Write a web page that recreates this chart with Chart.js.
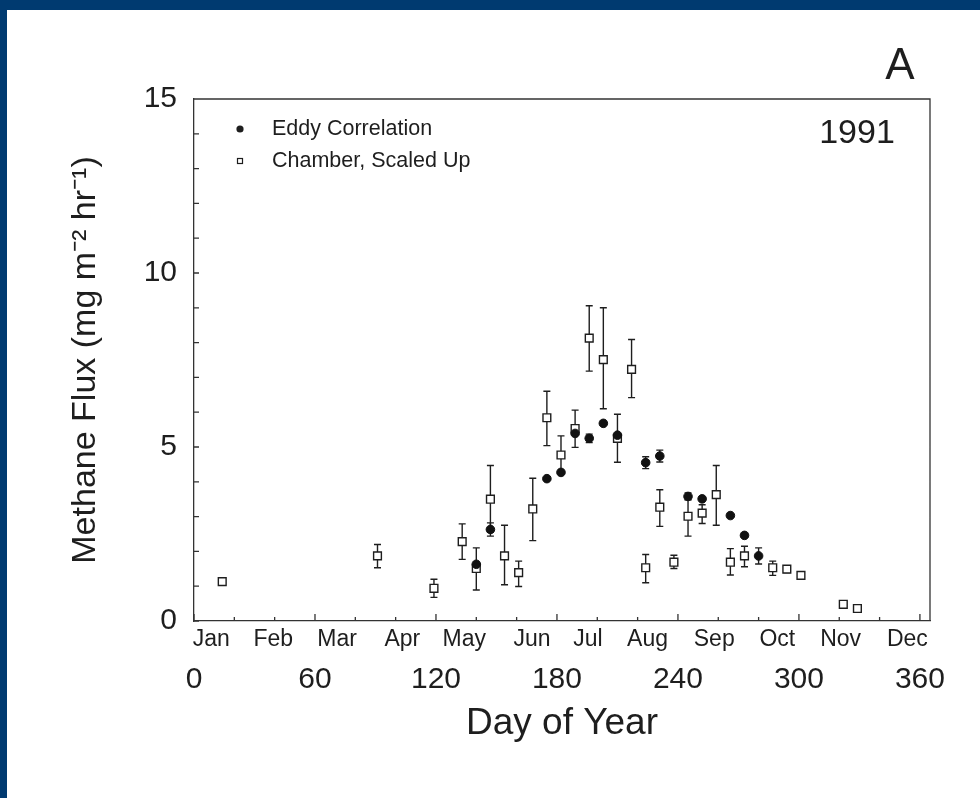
<!DOCTYPE html>
<html>
<head>
<meta charset="utf-8">
<script src="https://cdn.jsdelivr.net/npm/chart.js@4.4.0/dist/chart.umd.min.js"></script>
<style>
  html, body { margin: 0; padding: 0; background: #fff; }
  #wrap { position: relative; width: 980px; height: 798px; overflow: hidden; }
  #chart { position: absolute; left: 0; top: 0; }
  .band { position: absolute; background: #003a70; }
</style>
</head>
<body>
<div id="wrap">
  <canvas id="chart" width="980" height="798"></canvas>
  <div class="band" style="left:0;top:0;width:980px;height:10px"></div>
  <div class="band" style="left:0;top:0;width:7px;height:798px"></div>
</div>
<script>
// eddy correlation: day of year, flux, half error (null = no bar)
const eddyDays = [140, 147, 175, 182, 189, 196, 203, 210, 224, 231, 245, 252, 266, 273, 280];
const eddyFlux = [1.63, 2.63, 4.09, 4.27, 5.39, 5.25, 5.68, 5.34, 4.55, 4.74, 3.58, 3.51, 3.03, 2.46, 1.87];
const eddyErr  = [null, 0.19, null, null, null, 0.12, null, null, 0.17, 0.17, 0.1, null, null, null, 0.23];

// chamber, scaled up: day, flux, lower and upper bar ends
const chamberDays = [14, 91, 119, 133, 140, 147, 154, 161, 168, 175, 182, 189, 196, 203, 210,
                     217, 224, 231, 238, 245, 252, 259, 266, 273, 287, 294, 301, 322, 329];
const chamberFlux = [1.13, 1.87, 0.94, 2.28, 1.51, 3.5, 1.87, 1.39, 3.22, 5.84, 4.77, 5.53, 8.13, 7.51, 5.25,
                     7.23, 1.53, 3.27, 1.69, 3.01, 3.1, 3.63, 1.69, 1.87, 1.53, 1.49, 1.31, 0.48, 0.36];
const chamberLo = [null, 1.53, 0.68, 1.77, 0.89, 2.55, 1.04, 0.99, 2.31, 5.04, 4.3, 4.99, 7.18, 6.1, 4.56,
                   6.42, 1.1, 2.72, 1.51, 2.44, 2.8, 2.75, 1.32, 1.56, 1.31, 1.39, null, null, null];
const chamberHi = [null, 2.2, 1.2, 2.79, 2.1, 4.47, 2.75, 1.72, 4.1, 6.6, 5.32, 6.06, 9.06, 9.0, 5.94,
                   8.09, 1.91, 3.77, 1.89, 3.49, 3.34, 4.47, 2.08, 2.15, 1.72, 1.59, null, null, null];

const xTickDays = [0, 20, 40, 60, 80, 100, 120, 140, 160, 180, 200, 220, 240, 260, 280, 300, 320, 340, 360];
const dayLabels = [0, 60, 120, 180, 240, 300, 360];
const monthDays = [8.6, 39.3, 71, 103.3, 134, 167.6, 195.4, 224.9, 258, 289.3, 320.7, 353.8];
const monthNames = ['Jan', 'Feb', 'Mar', 'Apr', 'May', 'Jun', 'Jul', 'Aug', 'Sep', 'Oct', 'Nov', 'Dec'];
const yLabels = [0, 5, 10, 15];

const ink = '#1e1e1e';
const axisInk = '#333';
const family = '"Liberation Sans", Arial, sans-serif';

const eddyPoints = eddyDays.map((d, i) => ({
    x: d, y: eddyFlux[i],
    lo: eddyErr[i] == null ? null : eddyFlux[i] - eddyErr[i],
    hi: eddyErr[i] == null ? null : eddyFlux[i] + eddyErr[i]
}));
const chamberPoints = chamberDays.map((d, i) => ({ x: d, y: chamberFlux[i], lo: chamberLo[i], hi: chamberHi[i] }));

const errorBars = {
    id: 'errorBars',
    beforeDatasetsDraw(chart) {
        const { ctx, scales: { x, y } } = chart;
        ctx.save();
        ctx.strokeStyle = ink;
        ctx.lineWidth = 1.4;
        chart.data.datasets.forEach(ds => {
            ds.data.forEach(p => {
                if (p.lo == null) return;
                const px = x.getPixelForValue(p.x);
                const top = y.getPixelForValue(p.hi);
                const bot = y.getPixelForValue(p.lo);
                ctx.beginPath();
                ctx.moveTo(px, top); ctx.lineTo(px, bot);
                ctx.moveTo(px - 3.5, top); ctx.lineTo(px + 3.5, top);
                ctx.moveTo(px - 3.5, bot); ctx.lineTo(px + 3.5, bot);
                ctx.stroke();
            });
        });
        ctx.restore();
    }
};

const frame = {
    id: 'frame',
    afterDraw(chart) {
        const { ctx, chartArea: a, scales } = chart;
        ctx.save();
        ctx.strokeStyle = axisInk;
        ctx.lineWidth = 1.3;
        ctx.beginPath();
        ctx.moveTo(a.left, a.top); ctx.lineTo(a.right, a.top); ctx.lineTo(a.right, a.bottom);
        scales.y.ticks.forEach(t => {
            const py = scales.y.getPixelForValue(t.value);
            ctx.moveTo(a.left, py); ctx.lineTo(a.left + 5, py);
        });
        scales.x.ticks.forEach(t => {
            const px = scales.x.getPixelForValue(t.value);
            const len = t.value % 60 === 0 ? 7 : 4;
            ctx.moveTo(px, a.bottom); ctx.lineTo(px, a.bottom - len);
        });
        ctx.stroke();

        // legend
        ctx.fillStyle = ink;
        ctx.strokeStyle = ink;
        ctx.font = '21.5px ' + family;
        ctx.textBaseline = 'middle';
        ctx.textAlign = 'left';
        chart.data.datasets.forEach((ds, i) => {
            const mx = a.left + 46, my = a.top + 30 + i * 32;
            ctx.beginPath();
            if (ds.pointStyle === 'circle') {
                ctx.arc(mx, my, 3.6, 0, Math.PI * 2);
                ctx.fill();
            } else {
                ctx.lineWidth = 1.2;
                ctx.strokeRect(mx - 2.5, my - 2.5, 5, 5);
            }
            ctx.fillText(ds.label, a.left + 78, my);
        });

        ctx.textAlign = 'center';
        ctx.font = '34px ' + family;
        ctx.fillText('1991', 857, 134);
        ctx.font = '44px ' + family;
        ctx.fillText('A', 900, 67);
        ctx.restore();
    }
};

new Chart(document.getElementById('chart'), {
    type: 'scatter',
    data: {
        datasets: [
            {
                label: 'Eddy Correlation',
                data: eddyPoints,
                pointStyle: 'circle',
                pointRadius: 4.3,
                backgroundColor: '#111',
                borderColor: '#111',
                borderWidth: 1
            },
            {
                label: 'Chamber, Scaled Up',
                data: chamberPoints,
                pointStyle: 'rect',
                pointRadius: 5.5,
                backgroundColor: '#fff',
                borderColor: ink,
                borderWidth: 1.4
            }
        ]
    },
    options: {
        responsive: false,
        animation: false,
        devicePixelRatio: 1,
        layout: { padding: { left: 0, top: 99, right: 50, bottom: 31 } },
        plugins: {
            legend: { display: false },
            tooltip: { enabled: false }
        },
        scales: {
            x: {
                type: 'linear',
                position: 'bottom',
                weight: 1,
                min: 0,
                max: 365,
                grid: { display: false, drawTicks: false },
                border: { display: false },
                afterBuildTicks: s => { s.ticks = xTickDays.map(v => ({ value: v })); },
                ticks: {
                    padding: 5,
                    autoSkip: false,
                    maxRotation: 0,
                    color: ink,
                    font: { family: family, size: 30 },
                    callback: v => dayLabels.includes(v) ? String(v) : ''
                },
                title: {
                    display: true,
                    text: 'Day of Year',
                    color: ink,
                    font: { family: family, size: 37 },
                    padding: { top: 0, bottom: 21 }
                },
                afterFit: s => { s.height = 110; }
            },
            months: {
                type: 'linear',
                position: 'bottom',
                weight: 0,
                min: 0,
                max: 365,
                grid: { display: false, drawTicks: false },
                border: { display: true, color: axisInk, width: 1.3 },
                afterBuildTicks: s => { s.ticks = monthDays.map(v => ({ value: v })); },
                ticks: {
                    padding: 5,
                    autoSkip: false,
                    maxRotation: 0,
                    color: ink,
                    font: { family: family, size: 23 },
                    callback: (v, i) => monthNames[i]
                },
                afterFit: s => { s.height = 36; }
            },
            y: {
                min: 0,
                max: 15,
                grid: { display: false, drawTicks: false },
                border: { display: true, color: axisInk, width: 1.3 },
                ticks: {
                    stepSize: 1,
                    padding: 17,
                    autoSkip: false,
                    color: ink,
                    font: { family: family, size: 30 },
                    callback: v => yLabels.includes(v) ? String(v) : ''
                },
                title: {
                    display: true,
                    text: 'Methane Flux (mg m\u207B\u00B2 hr\u207B\u00B9)',
                    color: ink,
                    font: { family: family, size: 34 },
                    padding: { top: 65, bottom: 0 }
                },
                afterFit: s => { s.width = 194; }
            }
        }
    },
    plugins: [errorBars, frame]
});
</script>
</body>
</html>
